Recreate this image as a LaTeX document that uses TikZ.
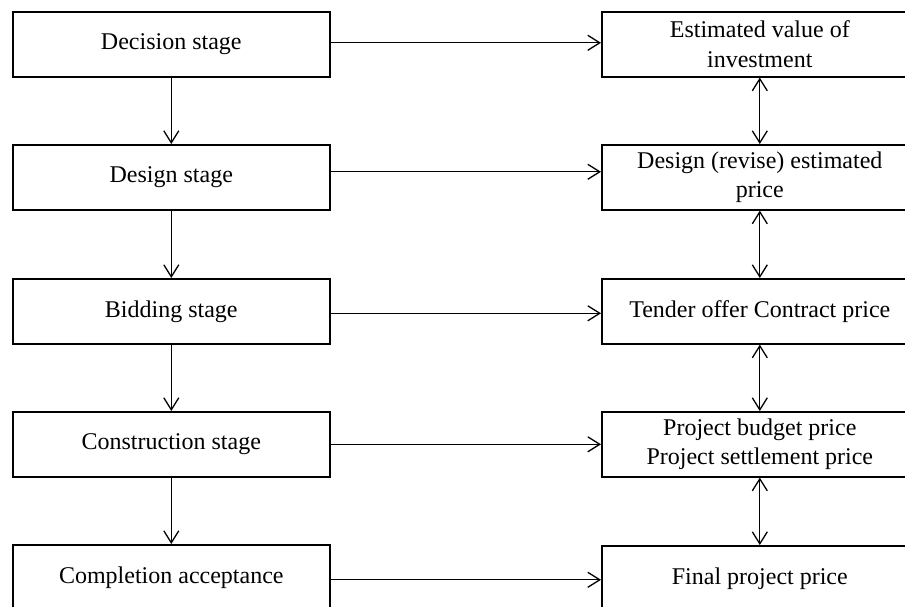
\documentclass[tikz,border=0pt]{standalone}
\usepackage{fontspec}
\setmainfont{Liberation Serif}
\usetikzlibrary{arrows.meta}
\begin{document}
\begin{tikzpicture}[x=1pt,y=-1pt,
  box/.style={draw, line width=1.6pt, minimum height=65pt, inner sep=0pt,
    align=center, font=\fontsize{24}{29.5}\selectfont, anchor=north west},
  lbox/.style={box, minimum width=317pt},
  rbox/.style={box, minimum width=316pt},
  arr/.style={line width=1.3pt, -{Straight Barb[length=12pt,width=15pt,line width=1.3pt]}},
  darr/.style={line width=1.3pt, {Straight Barb[length=12pt,width=15pt,line width=1.3pt]}-{Straight Barb[length=12pt,width=15pt,line width=1.3pt]}}]
\useasboundingbox (0,0) rectangle (905,606);
\clip (0,0) rectangle (905,606);

\node[lbox] (l1) at (12,11)  {Decision stage};
\node[lbox] (l2) at (12,144) {Design stage};
\node[lbox] (l3) at (12,278) {Bidding stage};
\node[lbox] (l4) at (12,411) {Construction stage};
\node[lbox] (l5) at (12,544) {Completion acceptance};

\node[rbox] (r1) at (601,11)  {Estimated value of\\investment};
\node[rbox] (r2) at (601,144) {Design (revise) estimated\\price};
\node[rbox] (r3) at (601,278) {Tender offer Contract price};
\node[rbox] (r4) at (601,411) {Project budget price\\Project settlement price};
\node[rbox] (r5) at (601,545) {Final project price};

\draw[arr] (l1) -- (l2);
\draw[arr] (l2) -- (l3);
\draw[arr] (l3) -- (l4);
\draw[arr] (l4) -- (l5);

\draw[darr] (r1) -- (r2);
\draw[darr] (r2) -- (r3);
\draw[darr] (r3) -- (r4);
\draw[darr] (r4) -- (r5);

\draw[arr] ([yshift=1.5pt]l1.east) -- ([yshift=1.5pt]l1.east -| r1.west);
\draw[arr] ([yshift=5.5pt]l2.east) -- ([yshift=5.5pt]l2.east -| r2.west);
\draw[arr] ([yshift=-2pt]l3.east) -- ([yshift=-2pt]l3.east -| r3.west);
\draw[arr] (l4.east) -- (l4.east -| r4.west);
\draw[arr] ([yshift=-2.5pt]l5.east) -- ([yshift=-2.5pt]l5.east -| r5.west);
\end{tikzpicture}
\end{document}
